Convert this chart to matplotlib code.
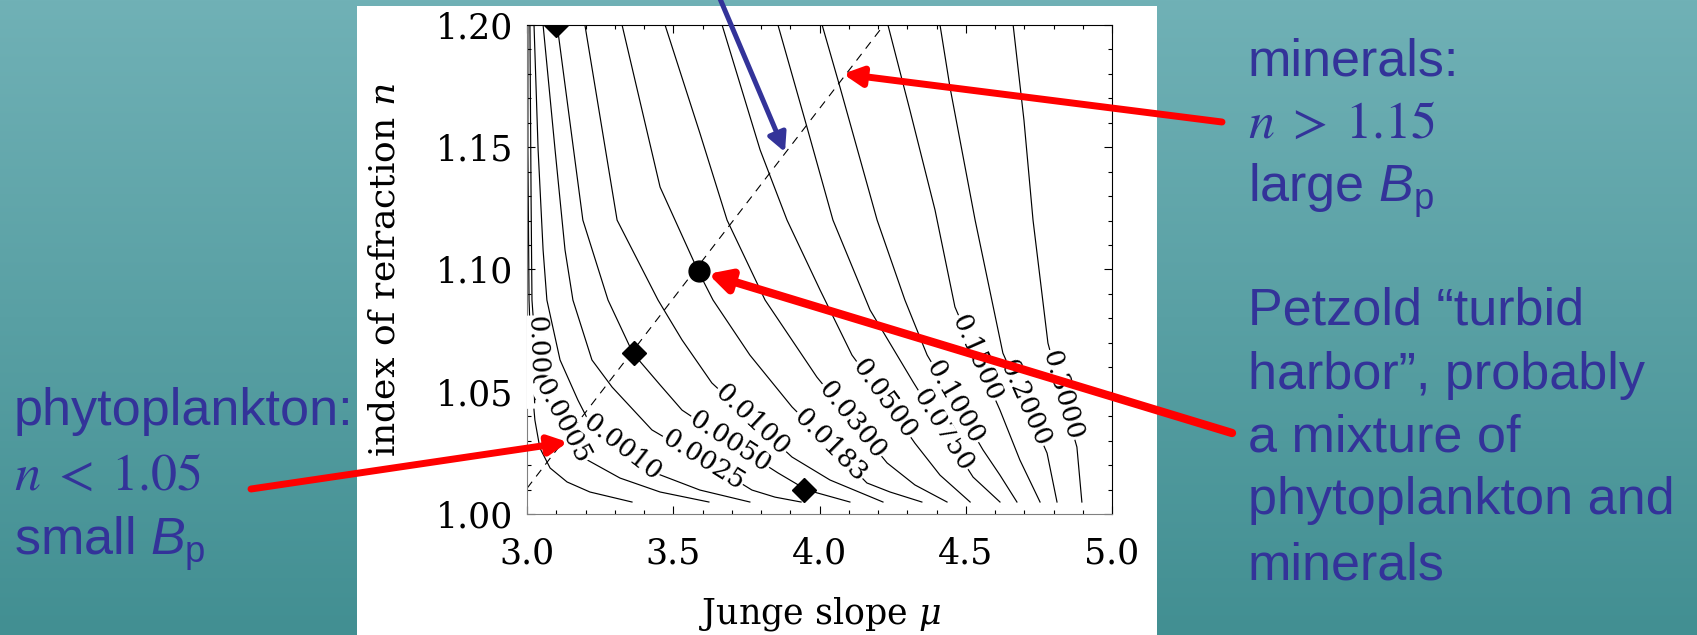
import numpy as np
import matplotlib
matplotlib.use("Agg")
import matplotlib.pyplot as plt
from matplotlib.patches import Rectangle
from matplotlib.ticker import MultipleLocator

plt.rcParams['mathtext.fontset'] = 'custom'
plt.rcParams['mathtext.rm'] = 'Liberation Sans'
plt.rcParams['mathtext.it'] = 'Liberation Sans:italic'

W, H = 1697, 635
BLUE = '#333399'

# ---- contour lines of Bp: Junge slope mu, index n ----
levels = ['0.0001', '0.0005', '0.0010', '0.0025', '0.0050', '0.0100', '0.0183',
          '0.0300', '0.0500', '0.0750', '0.1000', '0.1500', '0.2000', '0.3000']

mu_0001 = [3.003, 3.003, 3.007, 3.014, 3.024, 3.027, 3.044, 3.079, 3.137, 3.215, 3.359]
n_0001 = [1.200, 1.1489, 1.0875, 1.0630, 1.0425, 1.0384, 1.0270, 1.0188, 1.0131, 1.0090, 1.0049]
mu_0005 = [3.010, 3.014, 3.017, 3.034, 3.062, 3.123, 3.188, 3.318, 3.455, 3.622]
n_0005 = [1.200, 1.1284, 1.0875, 1.0589, 1.0507, 1.0384, 1.0233, 1.0147, 1.0090, 1.0049]
mu_0010 = [3.024, 3.038, 3.055, 3.068, 3.113, 3.174, 3.209, 3.325, 3.438, 3.591, 3.762]
n_0010 = [1.200, 1.1489, 1.1080, 1.0875, 1.0630, 1.0466, 1.0384, 1.0274, 1.0168, 1.0098, 1.0049]
mu_0025 = [3.055, 3.096, 3.130, 3.157, 3.222, 3.291, 3.427, 3.602, 3.769, 3.848, 3.937]
n_0025 = [1.200, 1.1489, 1.1080, 1.0875, 1.0630, 1.0519, 1.0344, 1.0221, 1.0098, 1.0069, 1.0049]
mu_0050 = [3.103, 3.191, 3.277, 3.362, 3.455, 3.530, 3.694, 3.858, 3.957, 4.104]
n_0050 = [1.200, 1.1202, 1.0875, 1.0658, 1.0528, 1.0425, 1.0294, 1.0168, 1.0098, 1.0049]
mu_0100 = [3.198, 3.308, 3.448, 3.530, 3.632, 3.769, 3.906, 4.036, 4.217]
n_0100 = [1.200, 1.1202, 1.0875, 1.0712, 1.0536, 1.0384, 1.0233, 1.0139, 1.0049]
mu_0183 = [3.325, 3.455, 3.585, 3.636, 3.762, 3.906, 4.036, 4.162, 4.241, 4.350]
n_0183 = [1.200, 1.1337, 1.0994, 1.0875, 1.0650, 1.0438, 1.0282, 1.0127, 1.0090, 1.0049]
mu_0300 = [3.472, 3.591, 3.684, 3.814, 3.991, 4.111, 4.231, 4.326, 4.436]
n_0300 = [1.200, 1.1558, 1.1202, 1.0875, 1.0560, 1.0384, 1.0209, 1.0119, 1.0049]
mu_0500 = [3.667, 3.797, 3.889, 4.002, 4.111, 4.221, 4.326, 4.412, 4.515]
n_0500 = [1.200, 1.1489, 1.1202, 1.0916, 1.0650, 1.0470, 1.0290, 1.0159, 1.0049]
mu_0750 = [3.858, 3.957, 4.046, 4.173, 4.320, 4.422, 4.525, 4.617]
n_0750 = [1.200, 1.1583, 1.1202, 1.0834, 1.0540, 1.0344, 1.0151, 1.0049]
mu_1000 = [4.009, 4.070, 4.197, 4.292, 4.368, 4.463, 4.559, 4.617, 4.675]
n_1000 = [1.200, 1.1746, 1.1202, 1.0875, 1.0650, 1.0458, 1.0262, 1.0159, 1.0049]
mu_1500 = [4.234, 4.309, 4.395, 4.463, 4.538, 4.617, 4.685, 4.754]
n_1500 = [1.200, 1.1652, 1.1243, 1.0847, 1.0638, 1.0425, 1.0221, 1.0049]
mu_2000 = [4.412, 4.446, 4.532, 4.627, 4.703, 4.778, 4.812]
n_2000 = [1.200, 1.1746, 1.1202, 1.0658, 1.0454, 1.0249, 1.0049]
mu_3000 = [4.662, 4.699, 4.730, 4.781, 4.829, 4.880, 4.897]
n_3000 = [1.200, 1.1611, 1.1202, 1.0699, 1.0487, 1.0274, 1.0049]

# where each level is labelled on its line
label_mu = [3.034, 3.120, 3.325, 3.602, 3.694, 3.769, 4.036, 4.111, 4.221, 4.422, 4.463, 4.538, 4.703, 4.829]
label_n = [1.0622, 1.0380, 1.0274, 1.0221, 1.0294, 1.0384, 1.0282, 1.0384, 1.0470, 1.0344, 1.0458, 1.0638, 1.0454, 1.0487]
label_rot = [-88, -62, -38, -32, -33, -43, -45, -51, -54, -58, -60, -66, -66, -74]

# dashed relation and the marked samples
dash_mu = [3.0, 4.22]
dash_n = [1.0105, 1.20]
diamond_mu = [3.10, 3.366, 3.947]
diamond_n = [1.20, 1.066, 1.010]
petzold_mu = [3.587]
petzold_n = [1.0994]

x_ticks = [3.0, 3.5, 4.0, 4.5, 5.0]
x_ticklabels = ['3.0', '3.5', '4.0', '4.5', '5.0']
y_ticks = [1.00, 1.05, 1.10, 1.15, 1.20]
y_ticklabels = ['1.00', '1.05', '1.10', '1.15', '1.20']

lines_mu = [mu_0001, mu_0005, mu_0010, mu_0025, mu_0050, mu_0100, mu_0183,
            mu_0300, mu_0500, mu_0750, mu_1000, mu_1500, mu_2000, mu_3000]
lines_n = [n_0001, n_0005, n_0010, n_0025, n_0050, n_0100, n_0183,
           n_0300, n_0500, n_0750, n_1000, n_1500, n_2000, n_3000]

fig = plt.figure(figsize=(W / 100, H / 100), dpi=100)

# slide background
bg = fig.add_axes([0, 0, 1, 1], zorder=-2)
bg.axis('off')
top = np.array([112, 177, 182]) / 255
bot = np.array([66, 143, 146]) / 255
t = np.linspace(0, 1, 256)[:, None, None]
bg.imshow(top + (bot - top) * t, aspect='auto', extent=[0, 1, 0, 1])
fig.add_artist(Rectangle((357 / W, 0), 800 / W, 629 / H, transform=fig.transFigure,
                         fc='white', ec='none', zorder=-1))

ax = fig.add_axes([527 / W, 121 / H, 585 / W, 489 / H], zorder=1)

for m, n in zip(lines_mu, lines_n):
    ax.plot(m, n, color='black', lw=0.85, zorder=2)

for lab, m, n, r in zip(levels, label_mu, label_n, label_rot):
    ax.text(m, n, lab, rotation=r, rotation_mode='anchor', ha='center', va='center',
            fontsize=19, family='DejaVu Serif', zorder=3, clip_on=True,
            bbox=dict(fc='white', ec='none', pad=0.3))

ax.plot(dash_mu, dash_n, color='black', lw=0.8, ls=(0, (7.5, 6)), zorder=2)
ax.plot(diamond_mu, diamond_n, 'D', color='black', ms=12, zorder=4)
ax.plot(petzold_mu, petzold_n, 'o', color='black', ms=15, zorder=4)

ax.set_xlim(3.0, 5.0)
ax.set_ylim(1.0, 1.2)
ax.set_xticks(x_ticks)
ax.set_xticklabels(x_ticklabels, fontsize=25, family='DejaVu Serif')
ax.set_yticks(y_ticks)
ax.set_yticklabels(y_ticklabels, fontsize=25, family='DejaVu Serif')
ax.xaxis.set_minor_locator(MultipleLocator(0.1))
ax.yaxis.set_minor_locator(MultipleLocator(0.01))
ax.tick_params(which='both', direction='in', top=True, right=True, width=0.8)
ax.tick_params(which='major', length=6)
ax.tick_params(which='minor', length=3)
ax.tick_params(axis='x', pad=16)
ax.tick_params(axis='y', pad=10)
for s in ['left', 'bottom']:
    ax.spines[s].set_color('#808080')
for s in ['top', 'right']:
    ax.spines[s].set_color('black')

ax.set_xlabel(r'Junge slope $\mu$', fontsize=25, family='DejaVu Serif', math_fontfamily='dejavuserif')
ax.set_ylabel(r'index of refraction $n$', fontsize=26, family='DejaVu Serif', math_fontfamily='dejavuserif')
ax.xaxis.set_label_coords(0.5, -0.165)
ax.yaxis.set_label_coords(-0.215, 0.5)

# slide annotations
kw = dict(fontsize=37.5, color=BLUE, family='Liberation Sans', va='baseline', ha='left')
fig.text(14 / W, 1 - 425 / H, 'phytoplankton:', **kw)
fig.text(14 / W, 1 - 490 / H, r'$n\;<\;1.05$', math_fontfamily='stix', **kw)
fig.text(14 / W, 1 - 555 / H, r'small $B_\mathrm{p}$', **kw)

right_lines = [('minerals:', 75, None), (r'$n\;>\;1.15$', 138, 'stix'), (r'large $B_\mathrm{p}$', 202, None),
               ('Petzold \u201cturbid', 324, None), ('harbor\u201d, probably', 389, None),
               ('a mixture of', 451, None), ('phytoplankton and', 514, None), ('minerals', 579, None)]
for txt, yb, mf in right_lines:
    if mf:
        fig.text(1248 / W, 1 - yb / H, txt, math_fontfamily=mf, **kw)
    else:
        fig.text(1248 / W, 1 - yb / H, txt, **kw)


def arrow(tip, tail, color, lw, hl, hw):
    ax.annotate('', xy=tip, xycoords='data', xytext=tail, textcoords='figure pixels',
                arrowprops=dict(arrowstyle='-|>,head_length=%g,head_width=%g' % (hl, hw),
                                color=color, lw=lw, shrinkA=0, shrinkB=0, mutation_scale=20),
                annotation_clip=False, zorder=10)


arrow((4.080, 1.180), (1222, H - 122), 'red', 5, 0.55, 0.28)
arrow((3.619, 1.0982), (1232, H - 433), 'red', 6, 0.62, 0.33)
arrow((3.140, 1.0294), (251, H - 489), 'red', 5, 0.55, 0.28)
arrow((3.882, 1.148), (718, H + 6), BLUE, 3.6, 0.55, 0.28)

fig.savefig('out.png', dpi=100)
